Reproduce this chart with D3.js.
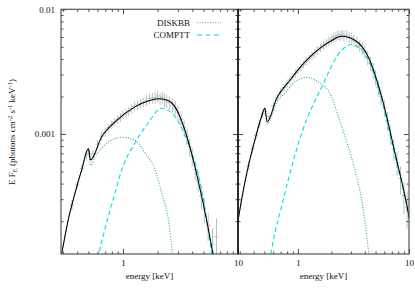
<!DOCTYPE html>
<html><head><meta charset="utf-8">
<script src="https://cdn.jsdelivr.net/npm/d3@7/dist/d3.min.js"></script>
<style>body{margin:0;background:#fff}svg{display:block}text{font-family:"Liberation Serif","DejaVu Serif",serif;fill:#111}</style>
</head><body><svg id="c" width="415" height="291"></svg>
<script>
// ---------- tick labels ----------
const yTickValues = [0.01, 0.001];
const yTickLabels = ["0.01", "0.001"];
const xTickValues = [1, 10];
const xTickLabels = ["1", "10"];
const legendLabels = ["DISKBB", "COMPTT"];
const xTitle = "energy [keV]";

// ---------- left panel: data ----------
const leftDataE = [0.36,0.40,0.44,0.48,0.51,0.55,0.60,0.65,0.70,0.75,0.80,0.85,0.90,0.95,1.00,1.06,1.12,1.19,1.26,1.34,1.42,1.50,1.60,1.70,1.80,1.90,2.00,2.10,2.20,2.30,2.40,2.55,2.70,2.85,3.00,3.20,3.40,3.60,3.80,4.00,4.25,4.50,4.80,5.10,5.50,6.00,6.50];
const leftDataF = [2.7e-4,3.9e-4,5.3e-4,6.8e-4,7.0e-4,6.9e-4,8.3e-4,9.6e-4,1.03e-3,1.12e-3,1.19e-3,1.25e-3,1.31e-3,1.36e-3,1.42e-3,1.47e-3,1.52e-3,1.60e-3,1.66e-3,1.71e-3,1.76e-3,1.80e-3,1.86e-3,1.92e-3,1.94e-3,1.96e-3,2.02e-3,1.92e-3,1.97e-3,1.88e-3,1.84e-3,1.78e-3,1.71e-3,1.62e-3,1.50e-3,1.31e-3,1.12e-3,9.6e-4,7.9e-4,6.6e-4,5.2e-4,4.2e-4,3.2e-4,2.5e-4,1.85e-4,1.3e-4,1.5e-4];
const leftDataErr = [0.09,0.08,0.08,0.08,0.08,0.08,0.08,0.08,0.08,0.08,0.08,0.08,0.08,0.08,0.08,0.08,0.08,0.09,0.09,0.09,0.09,0.09,0.10,0.10,0.10,0.11,0.11,0.11,0.11,0.12,0.12,0.12,0.13,0.13,0.13,0.14,0.15,0.15,0.16,0.17,0.18,0.19,0.21,0.23,0.26,0.35,0.40];
// ---------- left panel: model ----------
const leftTotalE = [0.28,0.293,0.334,0.383,0.437,0.50,0.522,0.653,0.852,1.27,1.6,2.02,2.4,2.83,3.67,4.49,5.48,6.3];
const leftTotalF = [8.9e-5,1.1e-4,2.05e-4,3.37e-4,5.15e-4,7.6e-4,6.2e-4,9.5e-4,1.25e-3,1.65e-3,1.82e-3,1.92e-3,1.87e-3,1.65e-3,8.95e-4,4.29e-4,1.8e-4,9e-5];
const leftDiskE = [0.28,0.293,0.334,0.383,0.437,0.50,0.522,0.571,0.697,0.974,1.27,1.55,1.90,2.17,2.48,2.65,2.76];
const leftDiskF = [8.9e-5,1.1e-4,2.05e-4,3.37e-4,5.15e-4,7.6e-4,5.6e-4,6.58e-4,8.17e-4,9.41e-4,8.95e-4,7.05e-4,5.15e-4,3.37e-4,2.05e-4,1.25e-4,9e-5];
const leftComptE = [0.60,0.745,0.852,0.974,1.27,1.65,2.17,2.83,3.67,4.83,5.9,6.1];
const leftComptF = [1.0e-4,2.18e-4,3.36e-4,5.15e-4,8.47e-4,1.22e-3,1.61e-3,1.38e-3,8.47e-4,3.56e-4,1.1e-4,9e-5];

// ---------- right panel: data ----------
const rightDataE = [0.36,0.39,0.42,0.45,0.48,0.51,0.55,0.60,0.65,0.70,0.75,0.80,0.85,0.90,0.95,1.00,1.06,1.12,1.19,1.26,1.34,1.42,1.50,1.60,1.70,1.80,1.90,2.00,2.10,2.20,2.30,2.40,2.50,2.60,2.75,2.90,3.05,3.20,3.40,3.60,3.80,4.00,4.25,4.50,4.75,5.00,5.30,5.60,6.00,6.40,6.80,7.30,7.80,8.40,9.00,9.60];
const rightDataF = [5.6e-4,7.6e-4,9.7e-4,1.2e-3,1.45e-3,1.52e-3,1.38e-3,1.68e-3,1.95e-3,2.18e-3,2.36e-3,2.55e-3,2.72e-3,2.88e-3,3.05e-3,3.25e-3,3.42e-3,3.62e-3,3.85e-3,4.02e-3,4.25e-3,4.45e-3,4.68e-3,4.92e-3,5.15e-3,5.35e-3,5.55e-3,5.75e-3,5.95e-3,6.05e-3,6.2e-3,6.15e-3,6.3e-3,6.1e-3,6.2e-3,5.95e-3,5.95e-3,5.6e-3,5.45e-3,5.1e-3,4.85e-3,4.55e-3,4.1e-3,3.7e-3,3.25e-3,2.85e-3,2.35e-3,2.0e-3,1.62e-3,1.28e-3,1.0e-3,7.6e-4,5.9e-4,4.4e-4,3.2e-4,2.6e-4];
const rightDataErr = [0.08,0.08,0.07,0.07,0.07,0.07,0.07,0.07,0.07,0.07,0.07,0.07,0.07,0.07,0.07,0.07,0.07,0.07,0.08,0.08,0.08,0.08,0.08,0.08,0.08,0.08,0.09,0.09,0.09,0.09,0.09,0.09,0.09,0.10,0.10,0.10,0.10,0.11,0.11,0.11,0.12,0.12,0.13,0.13,0.14,0.14,0.15,0.15,0.16,0.17,0.18,0.20,0.22,0.25,0.29,0.33];
// ---------- right panel: model ----------
const rightTotalE = [0.28,0.29,0.311,0.357,0.41,0.471,0.504,0.529,0.643,0.847,1.2,1.64,2.0,2.48,3.26,4.3,5.67,7.48,9.86,10.5];
const rightTotalF = [1.7e-4,2.05e-4,2.96e-4,5.47e-4,8.95e-4,1.38e-3,1.61e-3,1.25e-3,1.93e-3,2.7e-3,3.91e-3,4.99e-3,5.6e-3,6.08e-3,5.65e-3,4.15e-3,1.99e-3,7.05e-4,2.33e-4,1.7e-4];
const rightDiskE = [0.28,0.29,0.311,0.357,0.41,0.471,0.504,0.529,0.643,0.763,0.94,1.2,1.52,2.01,2.31,2.84,3.26,3.75,4.3,4.45];
const rightDiskF = [1.7e-4,2.05e-4,2.96e-4,5.47e-4,8.95e-4,1.38e-3,1.61e-3,1.2e-3,1.8e-3,2.12e-3,2.62e-3,2.84e-3,2.62e-3,1.99e-3,1.38e-3,7.91e-4,5.15e-4,2.96e-4,1.19e-4,9e-5];
const rightComptE = [0.555,0.621,0.713,0.818,1.08,1.64,2.48,3.05,4.3,5.67,7.48,9.86,10.5];
const rightComptF = [9.5e-5,1.61e-4,2.62e-4,4.29e-4,1.01e-3,2.39e-3,4.7e-3,5.22e-3,3.91e-3,1.87e-3,6.6e-4,2.25e-4,1.6e-4];

// ---------- layout ----------
const svg = d3.select("#c");
const Y0 = 9.3, Y1 = 254;
const xDomain = [0.289, 10];
const yScale = d3.scaleLog().domain([1.09e-4, 0.01]).range([Y1, Y0]);
const COL_DISK = "#2fa3a3", COL_COMPT = "#00dde6", COL_DATA = "#b8c2c2";

// minor tick positions
const yMinor = [];
[1e-4, 1e-3].forEach(d => { for (let k = 2; k <= 9; k++) yMinor.push(k * d); });
const xMinor = [];
[0.1, 1].forEach(d => { for (let k = 2; k <= 9; k++) { const v = k * d; if (v > 0.29) xMinor.push(v); } });

const panels = [
  { x0: 61, x1: 238, data: [leftDataE, leftDataF, leftDataErr], total: [leftTotalE, leftTotalF], disk: [leftDiskE, leftDiskF], compt: [leftComptE, leftComptF], yLabels: true },
  { x0: 238, x1: 409, data: [rightDataE, rightDataF, rightDataErr], total: [rightTotalE, rightTotalF], disk: [rightDiskE, rightDiskF], compt: [rightComptE, rightComptF], yLabels: false }
];

panels.forEach((p, i) => {
  const xs = d3.scaleLog().domain(xDomain).range([p.x0, p.x1]);
  const clipId = "clip" + i;
  svg.append("clipPath").attr("id", clipId).append("rect")
    .attr("x", p.x0).attr("y", Y0).attr("width", p.x1 - p.x0).attr("height", Y1 - Y0);
  const g = svg.append("g").attr("clip-path", `url(#${clipId})`);

  // data crosses
  const [dE, dF, dErr] = p.data;
  const pts = dE.map((e, j) => ({ e, f: dF[j], r: dErr[j] }));
  const dg = g.append("g").attr("stroke", COL_DATA).attr("stroke-width", 1);
  dg.selectAll("line.v").data(pts).join("line").attr("class", "v")
    .attr("x1", d => xs(d.e)).attr("x2", d => xs(d.e))
    .attr("y1", d => yScale(d.f * (1 + d.r))).attr("y2", d => yScale(d.f * (1 - d.r)));
  dg.selectAll("line.h").data(pts).join("line").attr("class", "h")
    .attr("x1", d => xs(d.e * 0.955)).attr("x2", d => xs(d.e * 1.045))
    .attr("y1", d => yScale(d.f)).attr("y2", d => yScale(d.f));

  const line = d3.line().x(d => xs(d[0])).y(d => yScale(d[1])).curve(d3.curveMonotoneX);
  const zip = (a) => a[0].map((e, j) => [e, a[1][j]]);
  g.append("path").attr("d", line(zip(p.disk))).attr("fill", "none")
    .attr("stroke", COL_DISK).attr("stroke-width", 1.1).attr("stroke-dasharray", "1,1.6");
  g.append("path").attr("d", line(zip(p.compt))).attr("fill", "none")
    .attr("stroke", COL_COMPT).attr("stroke-width", 1.1).attr("stroke-dasharray", "4.5,3");
  g.append("path").attr("d", line(zip(p.total))).attr("fill", "none")
    .attr("stroke", "#000").attr("stroke-width", 1.05);

  // axes (ticks inward)
  const mk = (axis, pos, major, minor, labels, fmt) => {
    const gm = svg.append("g").attr("transform", pos);
    gm.call(axis.tickValues(minor).tickSize(-2.5).tickFormat(""));
    const gM = svg.append("g").attr("transform", pos);
    gM.call((labels ? axis.tickValues(major).tickSize(-5).tickPadding(6).tickFormat(fmt) : axis.tickValues(major).tickSize(-5).tickFormat("")));
    [gm, gM].forEach(a => { a.select(".domain").remove(); a.selectAll("line").attr("stroke", "#333").attr("stroke-width", 0.9); a.selectAll("text").attr("font-size", 9).attr("font-family", '"Liberation Serif",serif').attr("fill", "#111"); });
  };
  mk(d3.axisBottom(xs), `translate(0,${Y1})`, xTickValues, xMinor, true, (d) => xTickLabels[xTickValues.indexOf(d)]);
  mk(d3.axisTop(xs), `translate(0,${Y0})`, xTickValues, xMinor, false);
  mk(d3.axisLeft(yScale), `translate(${p.x0},0)`, yTickValues, yMinor, p.yLabels, (d) => yTickLabels[yTickValues.indexOf(d)]);
  mk(d3.axisRight(yScale), `translate(${p.x1},0)`, yTickValues, yMinor, false);

  // frame
  svg.append("rect").attr("x", p.x0).attr("y", Y0).attr("width", p.x1 - p.x0).attr("height", Y1 - Y0)
    .attr("fill", "none").attr("stroke", "#555").attr("stroke-width", 1.2);

  svg.append("text").attr("x", (p.x0 + p.x1) / 2).attr("y", 279).attr("text-anchor", "middle")
    .attr("font-size", 9).text(xTitle);
});

// divider darker
svg.append("line").attr("x1", 238).attr("x2", 238).attr("y1", Y0).attr("y2", Y1).attr("stroke", "#000").attr("stroke-width", 1.2);

// y title
const yt = svg.append("text").attr("transform", "translate(15,132) rotate(-90)").attr("text-anchor", "middle").attr("font-size", 9);
yt.append("tspan").text("E F");
yt.append("tspan").attr("baseline-shift", "-25%").attr("font-size", 6.5).text("E");
yt.append("tspan").text(" (photons cm");
yt.append("tspan").attr("baseline-shift", "40%").attr("font-size", 6.5).text("-2");
yt.append("tspan").text(" s");
yt.append("tspan").attr("baseline-shift", "40%").attr("font-size", 6.5).text("-1");
yt.append("tspan").text(" keV");
yt.append("tspan").attr("baseline-shift", "40%").attr("font-size", 6.5).text("-1");
yt.append("tspan").text(")");

// legend
const lg = svg.append("g");
[[22.7, COL_DISK, "1,1.6"], [35, COL_COMPT, "5,3.5"]].forEach((r, i) => {
  lg.append("text").attr("x", 190).attr("y", r[0] + 3).attr("text-anchor", "end").attr("font-size", 9).text(legendLabels[i]);
  lg.append("line").attr("x1", 197).attr("x2", 221).attr("y1", r[0]).attr("y2", r[0])
    .attr("stroke", r[1]).attr("stroke-width", 1.1).attr("stroke-dasharray", r[2]);
});
</script></body></html>
